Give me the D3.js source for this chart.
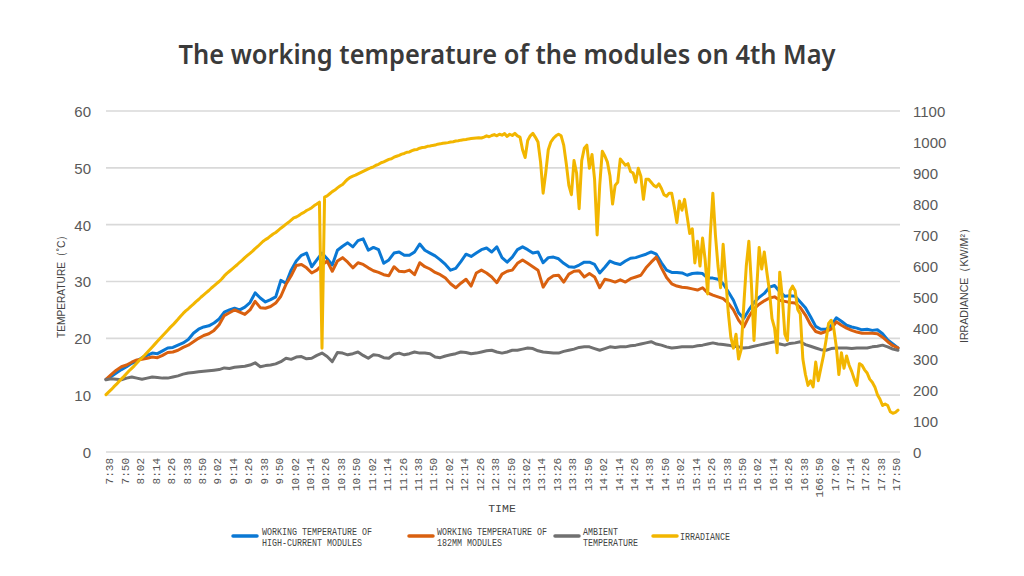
<!DOCTYPE html>
<html>
<head>
<meta charset="utf-8">
<script src="https://cdn.jsdelivr.net/npm/d3@7"></script>
<style>
  html, body { margin: 0; padding: 0; background: #ffffff; }
  svg { display: block; }
</style>
</head>
<body>
<svg id="chart" width="1024" height="576"></svg>
<script>
// ---------------- DATA ----------------
const title = "The working temperature of the modules on 4th May";
const xTickLabels = ["7:38","7:50","8:02","8:14","8:26","8:38","8:50","9:02","9:14","9:26","9:38","9:50",
  "10:02","10:14","10:26","10:38","10:50","11:02","11:14","11:26","11:38","11:50",
  "12:02","12:14","12:26","12:38","12:50","13:02","13:14","13:26","13:38","13:50",
  "14:02","14:14","14:26","14:38","14:50","15:02","15:14","15:26","15:38","15:50",
  "16:02","16:14","16:26","16:38","166:50","17:02","17:14","17:26","17:38","17:50"];
const tickStepMinutes = 12;      // minutes between x tick labels
const tempStepMinutes = 4;       // sampling interval of temperature series
const irrStepMinutes = 2;        // sampling interval of irradiance series
const tempTicks = [0,10,20,30,40,50,60];
const irrTicks = [0,100,200,300,400,500,600,700,800,900,1000,1100];

// working temperature of high-current modules (°C), every 4 min from 7:38
const highCurrent = [12.8,13.3,13.9,14.5,15.0,15.6,16.0,16.6,17.0,17.4,17.3,17.8,18.3,18.4,18.8,19.2,19.8,20.9,21.6,22.0,
  22.2,22.7,23.4,24.6,25.0,25.3,25.0,25.5,26.3,28.0,27.1,26.4,26.8,27.3,30.2,29.7,32.0,33.6,34.6,35.0,
  32.6,33.8,35.0,34.0,32.9,35.5,36.2,36.8,36.1,37.2,37.5,35.5,36.0,35.6,33.2,33.8,35.0,35.2,34.6,34.6,
  35.2,36.6,35.5,35.0,34.5,33.8,33.0,32.0,32.3,33.5,34.8,34.4,35.0,35.6,35.9,35.2,36.1,34.2,33.4,34.3,
  35.6,36.1,35.6,35.0,35.2,33.3,34.2,34.3,34.0,33.2,32.6,32.5,32.9,33.4,33.4,33.0,31.5,32.5,33.6,33.2,
  33.0,33.6,34.1,34.2,34.5,34.8,35.2,34.8,33.3,32.0,31.6,31.6,31.5,31.1,31.4,31.5,31.4,30.6,30.6,30.4,
  29.6,28.2,26.7,24.5,23.5,25.0,26.3,27.2,27.9,29.0,29.3,28.2,27.4,27.5,27.4,26.4,25.4,23.8,22.1,21.6,
  21.6,22.2,23.6,23.0,22.3,22.0,21.8,21.5,21.6,21.4,21.5,20.8,19.7,19.0,18.3];

// working temperature of 182mm modules (°C)
const mod182 = [12.8,13.6,14.4,15.0,15.3,15.8,16.2,16.3,16.5,16.7,16.6,17.0,17.5,17.6,17.9,18.4,18.8,19.4,20.0,20.5,
  20.8,21.4,22.4,24.0,24.5,25.0,24.6,24.2,25.0,26.5,25.4,25.3,25.6,26.2,27.4,29.5,31.0,32.8,33.0,32.4,
  31.5,32.0,32.9,33.6,31.8,33.6,34.2,33.4,32.4,33.3,33.0,32.4,31.9,31.6,31.2,31.0,32.6,31.8,31.7,32.0,
  31.2,33.3,32.6,32.2,31.6,31.2,30.6,29.6,28.9,29.7,30.4,29.2,31.5,32.0,31.5,30.8,29.8,31.3,31.8,32.0,
  33.2,33.8,33.2,32.6,32.0,29.0,30.4,31.0,31.1,29.9,31.3,31.8,31.9,30.8,31.4,30.8,28.9,30.4,30.2,29.9,
  30.3,29.9,30.5,30.8,31.1,32.4,33.4,34.3,32.4,30.7,29.6,29.2,29.0,28.9,28.7,28.5,28.9,28.0,27.6,27.3,
  27.0,26.2,25.0,23.2,22.0,23.8,25.2,26.0,26.6,27.1,27.3,26.7,26.5,26.3,26.2,25.4,24.1,22.4,21.2,20.9,
  21.2,21.6,22.9,22.3,21.8,21.4,21.1,20.9,20.9,20.9,20.8,20.2,19.4,18.7,18.3];

// ambient temperature (°C)
const ambient = [12.7,12.9,12.8,12.7,13.0,13.2,13.0,12.8,13.0,13.2,13.1,13.0,13.0,13.2,13.4,13.7,13.9,14.0,14.1,14.2,
  14.3,14.4,14.5,14.8,14.7,14.9,15.0,15.1,15.3,15.7,15.0,15.2,15.3,15.5,15.9,16.5,16.3,16.7,16.8,16.4,
  16.5,17.0,17.4,16.8,15.9,17.5,17.4,17.1,17.3,17.6,17.0,16.5,17.1,17.0,16.6,16.5,17.2,17.4,17.1,17.3,
  17.6,17.4,17.4,17.3,16.7,16.6,16.9,17.1,17.3,17.6,17.5,17.3,17.4,17.6,17.8,17.9,17.6,17.4,17.6,17.9,
  17.9,18.1,18.3,18.2,17.8,17.6,17.5,17.4,17.4,17.7,17.9,18.1,18.4,18.5,18.5,18.2,17.9,18.2,18.5,18.4,
  18.5,18.5,18.7,18.8,19.0,19.2,19.4,19.0,18.8,18.5,18.3,18.4,18.5,18.5,18.5,18.7,18.8,19.0,19.2,19.0,
  18.9,18.8,18.6,18.5,18.3,18.4,18.6,18.8,19.0,19.2,19.4,19.0,18.8,19.1,19.2,19.4,18.9,18.6,18.3,18.0,
  17.9,18.2,18.3,18.3,18.3,18.2,18.3,18.3,18.3,18.5,18.6,18.8,18.5,18.1,17.9];

// irradiance (KW/M²), every 2 min from 7:38
const irradiance = [185,193,201,210,218,227,236,244,253,262,270,278,287,296,304,312,321,330,339,348,
  357,366,375,384,393,402,410,419,428,438,447,455,462,470,477,485,492,500,507,514,
  521,529,536,543,550,558,568,576,583,590,597,604,612,619,627,634,641,648,656,663,
  671,679,685,690,697,703,708,715,722,728,735,741,748,755,758,763,769,773,779,783,
  788,795,800,806,335,822,826,833,840,845,852,858,863,872,880,886,890,893,897,901,
  905,909,913,917,920,925,928,933,936,940,944,946,951,954,957,961,963,967,968,972,
  975,976,980,982,983,986,987,989,990,993,994,996,997,998,1000,1001,1003,1004,1006,1007,
  1008,1010,1011,1012,1013,1014,1013,1016,1020,1017,1021,1024,1020,1025,1022,1027,1018,1025,1021,1028,
  1020,1016,975,950,1005,1020,1028,1015,1000,935,835,900,975,1000,1012,1020,1025,1020,990,930,
  860,830,940,900,785,940,980,990,915,960,880,700,860,970,955,935,890,800,860,870,
  945,935,925,930,905,900,870,915,890,815,880,880,870,860,855,865,850,830,825,835,
  835,790,740,810,780,815,760,705,720,610,680,600,690,620,510,700,835,700,600,530,
  670,560,450,370,335,380,300,330,470,600,680,540,360,520,660,590,645,580,520,430,
  400,320,580,500,380,360,520,535,520,460,445,300,250,215,230,210,290,230,270,310,
  360,415,425,400,340,250,320,270,310,280,260,235,215,285,280,265,255,235,225,210,
  185,170,150,155,150,130,125,128,135];

const seriesNames = [
  ["WORKING TEMPERATURE OF","HIGH-CURRENT MODULES"],
  ["WORKING TEMPERATURE OF","182MM MODULES"],
  ["AMBIENT","TEMPERATURE"],
  ["IRRADIANCE"]
];
const seriesColors = ["#0a78d4", "#d9600f", "#707070", "#f2b600"];

// ---------------- DRAW ----------------
const svg = d3.select("#chart");
const W = 1024, H = 576;
svg.append("rect").attr("width", W).attr("height", H).attr("fill", "#fff");

const plot = { left: 106, right: 898, top: 111, bottom: 452 };
const totalMinutes = (highCurrent.length - 1) * tempStepMinutes;

const x = d3.scaleLinear().domain([0, totalMinutes]).range([plot.left, plot.right]);
const yT = d3.scaleLinear().domain([0, 60]).range([plot.bottom, plot.top]);
const yI = d3.scaleLinear().domain([0, 1100]).range([plot.bottom, plot.top]);

// title
svg.append("text")
  .attr("x", 507).attr("y", 64)
  .attr("text-anchor", "middle")
  .attr("font-family", "'Noto Sans', 'Open Sans', sans-serif")
  .attr("font-weight", 600)
  .attr("font-size", 27)
  .attr("fill", "#3a3a3a")
  .attr("textLength", 657)
  .attr("lengthAdjust", "spacingAndGlyphs")
  .text(title);

// gridlines
svg.append("g").selectAll("line").data(tempTicks).join("line")
  .attr("x1", plot.left).attr("x2", plot.right + 2)
  .attr("y1", d => yT(d)).attr("y2", d => yT(d))
  .attr("stroke", "#d9d9d9").attr("stroke-width", 1.6);

// left axis
const leftAxis = d3.axisLeft(yT).tickValues(tempTicks).tickFormat(d3.format("d")).tickSize(0).tickPadding(0);
const gL = svg.append("g").attr("transform", `translate(${plot.left - 15},0)`).call(leftAxis);
gL.select(".domain").remove();
gL.selectAll("text").attr("font-family", "'Liberation Sans', Arial, sans-serif")
  .attr("font-size", 15).attr("fill", "#595959").attr("dy", "0.36em");

// right axis
const rightAxis = d3.axisRight(yI).tickValues(irrTicks).tickFormat(d3.format("d")).tickSize(0).tickPadding(0);
const gR = svg.append("g").attr("transform", `translate(${plot.right + 15},0)`).call(rightAxis);
gR.select(".domain").remove();
gR.selectAll("text").attr("font-family", "'Liberation Sans', Arial, sans-serif")
  .attr("font-size", 15).attr("fill", "#595959").attr("dy", "0.36em");

// x axis tick labels (rotated)
const xTickMinutes = xTickLabels.map((d, i) => i * tickStepMinutes);
const xAxis = d3.axisBottom(x).tickValues(xTickMinutes)
  .tickFormat((d, i) => xTickLabels[i]).tickSize(0).tickPadding(0);
const gX = svg.append("g").attr("transform", `translate(0,${plot.bottom + 6})`).call(xAxis);
gX.select(".domain").remove();
gX.selectAll("text")
  .attr("font-family", "'Liberation Mono', 'DejaVu Sans Mono', monospace")
  .attr("font-size", 11).attr("fill", "#555")
  .attr("text-anchor", "end")
  .attr("transform", "translate(3,0) rotate(-90)")
  .attr("x", 0).attr("y", 0).attr("dy", "0.35em");

// axis titles
svg.append("text")
  .attr("transform", `translate(${502},${512})`)
  .attr("text-anchor", "middle")
  .attr("font-family", "'Liberation Mono', monospace")
  .attr("font-size", 11.5).attr("fill", "#444")
  .text("TIME");

svg.append("text")
  .attr("transform", `translate(65,284) rotate(-90)`)
  .attr("text-anchor", "middle")
  .attr("font-family", "'Liberation Sans', Arial, sans-serif")
  .attr("font-size", 11.5).attr("fill", "#444")
  .attr("textLength", 108).attr("lengthAdjust", "spacingAndGlyphs")
  .text("TEMPERATURE（˚C）");

svg.append("text")
  .attr("transform", `translate(968,283) rotate(-90)`)
  .attr("text-anchor", "middle")
  .attr("font-family", "'Liberation Sans', Arial, sans-serif")
  .attr("font-size", 11.5).attr("fill", "#444")
  .attr("textLength", 120).attr("lengthAdjust", "spacingAndGlyphs")
  .text("IRRADIANCE（KW/M²）");

// lines
const lineT = d3.line().x((d, i) => x(i * tempStepMinutes)).y(d => yT(d)).curve(d3.curveLinear);
const lineI = d3.line().x((d, i) => x(i * irrStepMinutes)).y(d => yI(d)).curve(d3.curveLinear);

const tempSeries = [highCurrent, mod182, ambient];
tempSeries.forEach((s, k) => {
  svg.append("path").datum(s)
    .attr("d", lineT)
    .attr("fill", "none")
    .attr("stroke", seriesColors[k])
    .attr("stroke-width", 3)
    .attr("stroke-linejoin", "round")
    .attr("stroke-linecap", "round");
});
svg.append("path").datum(irradiance)
  .attr("d", lineI)
  .attr("fill", "none")
  .attr("stroke", seriesColors[3])
  .attr("stroke-width", 3)
  .attr("stroke-linejoin", "round")
  .attr("stroke-linecap", "round");

// legend
const legendItems = [
  { x: 233, textX: 262 },
  { x: 409, textX: 437 },
  { x: 555, textX: 583 },
  { x: 653, textX: 680 }
];
const lg = svg.append("g");
seriesNames.forEach((lines, k) => {
  const it = legendItems[k];
  lg.append("line")
    .attr("x1", it.x).attr("x2", it.x + 24)
    .attr("y1", 536).attr("y2", 536)
    .attr("stroke", seriesColors[k]).attr("stroke-width", 3.5)
    .attr("stroke-linecap", "round");
  const n = lines.length;
  lines.forEach((t, j) => {
    const yy = n === 1 ? 536 : 531.5 + j * 10.5;
    lg.append("text")
      .attr("x", it.textX).attr("y", yy)
      .attr("dy", "0.35em")
      .attr("font-family", "'Liberation Mono', 'DejaVu Sans Mono', monospace")
      .attr("font-size", 11).attr("fill", "#444")
      .attr("textLength", t.length * 5)
      .attr("lengthAdjust", "spacingAndGlyphs")
      .text(t);
  });
});
</script>
</body>
</html>
